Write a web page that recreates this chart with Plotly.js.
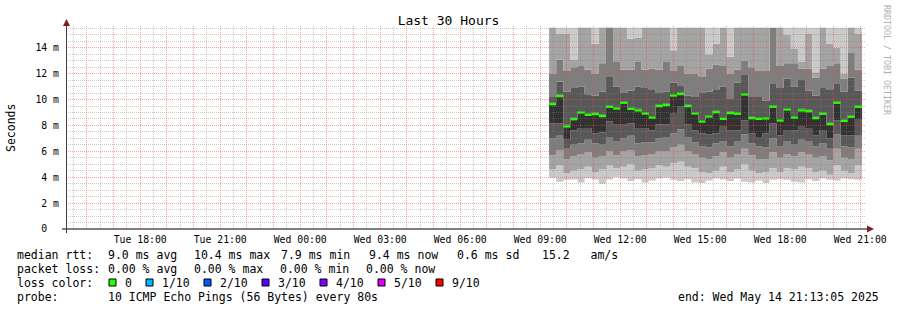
<!DOCTYPE html>
<html><head><meta charset="utf-8">
<script src="https://cdn.plot.ly/plotly-3.0.1.min.js"></script>
<style>html,body{margin:0;padding:0;background:#fff}#chart{width:897px;height:310px}</style>
</head><body><div id="chart"></div>
<script>
// ---------------- data ----------------
const rangeStart = '2025-05-13 15:13:05';
const rangeEnd   = '2025-05-14 21:13:05';
const firstSample = '2025-05-14 09:20:00';
const stepMinutes = 16;

// median rtt per 16-minute step (ms)
const median = [9.64,10.26,7.92,8.48,9.00,8.82,8.87,8.72,9.44,9.31,9.75,9.28,9.16,8.92,8.61,9.49,9.57,10.31,10.42,9.49,8.92,8.30,8.69,9.02,8.51,8.95,8.90,10.39,8.56,8.51,8.54,9.44,8.38,9.23,8.61,9.16,9.10,8.56,8.90,8.10,9.75,8.35,8.67,9.44];
// sorted pings 1..10 (ms), visible part (clipped at top of graph)
const ping1 = [3.95,3.65,3.8,3.82,3.6,3.92,3.82,3.5,3.82,4.0,3.9,3.7,3.85,3.6,3.75,3.9,3.95,3.8,3.7,3.85,3.6,3.55,3.75,3.9,3.82,3.7,3.9,3.65,3.6,3.75,3.55,3.8,3.85,3.8,3.65,3.6,3.85,3.7,3.9,3.8,3.75,3.9,3.85,3.8];
const ping2 = [4.6,4.9,4.3,4.5,4.6,4.8,4.4,4.6,4.9,4.7,4.8,5.0,4.5,4.6,4.7,4.9,4.8,5.1,5.2,4.8,4.7,4.4,4.3,4.5,4.8,4.4,4.6,5.0,4.5,4.3,4.4,4.7,4.4,4.7,4.6,4.8,4.7,4.4,4.5,4.2,4.9,4.5,4.3,4.9];
const ping3 = [5.7,6.1,5.4,5.6,5.8,5.9,5.5,5.6,6.0,5.7,6.0,6.1,5.6,5.7,5.8,6.0,6.0,6.3,6.5,6.0,5.8,5.5,5.4,5.6,5.9,5.5,5.8,6.2,5.7,5.4,5.4,5.9,5.5,5.8,5.6,5.9,5.8,5.5,5.6,5.3,6.2,5.5,5.4,6.2];
const ping4 = [7.0,7.2,6.2,6.5,6.6,6.9,6.6,6.5,7.1,6.8,7.0,7.2,6.6,6.7,6.7,7.0,7.1,7.4,7.7,7.1,6.7,6.4,6.3,6.6,6.8,6.4,6.8,7.3,6.6,6.4,6.3,7.0,6.4,6.8,6.5,6.9,6.8,6.4,6.6,6.2,7.3,6.4,6.3,7.2];
const ping5 = [8.15,8.15,6.90,7.60,7.80,7.80,7.40,7.45,8.30,8.05,8.05,8.15,7.75,7.80,7.60,8.10,8.10,8.90,9.45,8.10,7.60,7.40,7.30,7.40,7.90,7.60,7.60,8.40,7.40,7.10,7.40,8.15,7.25,7.65,7.60,7.90,7.80,7.25,7.65,7.00,8.40,7.25,7.25,8.50];
const ping6 = [9.76,10.38,8.05,8.60,9.12,8.94,8.99,8.84,9.56,9.43,9.87,9.40,9.28,9.04,8.73,9.61,9.69,10.43,10.54,9.61,9.04,8.42,8.81,9.14,8.63,9.07,9.02,10.51,8.68,8.63,8.66,9.56,8.50,9.35,8.73,9.28,9.22,8.68,9.02,8.22,9.87,8.47,8.79,9.56];
const ping7 = [10.2,11.4,10.6,10.9,11.0,10.4,10.3,10.6,11.8,11.0,10.5,10.7,11.0,10.9,10.8,10.5,10.6,11.3,11.1,10.3,10.2,10.5,10.6,10.8,11.0,10.1,11.3,11.9,10.2,10.2,9.9,11.2,10.9,11.6,11.0,11.5,10.7,10.3,10.9,10.8,11.2,10.6,11.7,10.7];
const ping8 = [12.0,13.1,12.2,12.5,12.6,12.3,12.0,12.8,15.55,12.9,12.3,12.3,12.9,12.3,12.4,12.3,12.9,12.2,12.6,12.0,12.0,11.8,12.4,12.7,12.6,12.0,12.3,13.0,12.5,12.2,12.2,15.55,12.6,12.8,12.8,12.4,12.4,11.7,12.4,12.6,12.8,11.6,13.6,12.3];
const ping9 = [15.55,15.1,15.1,13.1,15.55,15.55,14.3,15.55,15.55,15.55,15.55,14.7,14.8,15.55,15.55,15.55,15.55,13.8,15.55,15.55,15.55,15.55,13.5,14.3,15.55,13.3,15.55,15.55,15.55,15.55,15.55,15.55,15.55,15.0,13.9,12.9,15.1,12.1,15.55,14.3,14.0,12.0,15.55,15.1];
const ping10 = [15.55,15.55,15.55,15.55,15.55,15.55,15.55,15.55,15.55,15.55,15.55,15.55,15.55,15.55,15.55,15.55,15.55,15.55,15.55,15.55,15.55,15.55,15.55,15.55,15.55,15.55,15.55,15.55,15.55,15.55,15.55,15.55,15.55,15.55,15.55,15.55,15.55,15.55,15.55,15.55,15.55,15.55,15.55,15.55];

const yTickVals = [0,2,4,6,8,10,12,14];
const yTickText = ['0\u00a0\u00a0','2 m','4 m','6 m','8 m','10 m','12 m','14 m'];
const yMax = 15.68;

const smokeColors = ['#cacaca','#a4a4a4','#7e7e7e','#585858','#323232','#585858','#7e7e7e','#a4a4a4','#cacaca'];
const medianColor = '#26ff00';

const lossColors = ['#26ff00','#00b8ff','#0059ff','#5e00ff','#7e00ff','#dd00ff','#ff0000'];
const lossLabels = ['0','1/10','2/10','3/10','4/10','5/10','9/10'];

const line1 = [['median rtt:',16],['9.0 ms avg',107],['10.4 ms max',193],['7.9 ms min',280],['9.4 ms now',368],['0.6 ms sd',456],['15.2\u00a0\u00a0\u00a0am/s',541]];
const line2 = [['packet loss:',16],['0.00 % avg',107],['0.00 % max',193],['0.00 % min',279],['0.00 % now',365]];
const line4 = [['probe:',16],['10 ICMP Echo Pings (56 Bytes) every 80s',107]];
const endText = 'end: Wed May 14 21:13:05 2025';

// ---------------- helpers ----------------
const FONT = 'DejaVu Sans Mono';
const L = 66, T = 26, W = 800, H = 203, FW = 897, FH = 310;
const px = x => (x - L) / W;
const py = y => 1 - (y - T) / H;
const toMs = s => Date.parse(s.replace(' ', 'T') + 'Z');
const pad = n => String(n).padStart(2, '0');
const fmt = ms => { const d = new Date(ms); return d.getUTCFullYear()+'-'+pad(d.getUTCMonth()+1)+'-'+pad(d.getUTCDate())+' '+pad(d.getUTCHours())+':'+pad(d.getUTCMinutes())+':'+pad(d.getUTCSeconds()); };
const days = ['Sun','Mon','Tue','Wed','Thu','Fri','Sat'];

const t0 = toMs(firstSample), stepMs = stepMinutes * 60000;
const n = median.length;
const times = [];
for (let i = 0; i <= n; i++) times.push(fmt(t0 + i * stepMs));

// ---------------- traces ----------------
const pings = [ping1,ping2,ping3,ping4,ping5,ping6,ping7,ping8,ping9,ping10];
const traces = pings.map((p, k) => ({
  type: 'scatter', mode: 'lines', x: times, y: p.concat([p[p.length-1]]),
  xaxis: 'x', yaxis: 'y', line: {width: 0, shape: 'hv'},
  fill: k === 0 ? 'none' : 'tonexty', fillcolor: k === 0 ? undefined : smokeColors[k-1],
  hoverinfo: 'skip', showlegend: false
}));
// empty trace so that the minor-grid subplot is drawn
traces.push({type:'scatter', mode:'lines', x:[rangeStart], y:[null], xaxis:'x2', yaxis:'y2', hoverinfo:'skip', showlegend:false});
const mx = [], my = [];
median.forEach((m, i) => { mx.push(times[i], times[i+1], null); my.push(m, m, null); });
traces.push({type:'scatter', mode:'lines', x: mx, y: my, xaxis:'x3', yaxis:'y3',
  line:{color: medianColor, width: 2.3}, hoverinfo:'skip', showlegend:false, connectgaps:false});

// ---------------- grid / ticks ----------------
const halfHour = 1800000;
const majorX = [], majorXText = [], minorX = [];
for (let t = Math.ceil(toMs(rangeStart)/halfHour)*halfHour; t <= toMs(rangeEnd); t += halfHour) {
  const d = new Date(t);
  if (d.getUTCMinutes() === 0) {
    majorX.push(fmt(t));
    majorXText.push(d.getUTCHours() % 3 === 0 ? days[d.getUTCDay()] + ' ' + pad(d.getUTCHours()) + ':00' : '');
  } else minorX.push(fmt(t));
}
const minorY = [];
for (let v = 0.5; v < yMax; v += 0.5) if (v % 2 !== 0) minorY.push(v);

// ---------------- annotations / shapes ----------------
const annotations = [];
const shapes = [];
const textAnn = (text, x, y, opts={}) => annotations.push(Object.assign({
  text: text.replace(/ /g, '\u00a0'), xref:'paper', yref:'paper', x: px(x), y: py(y),
  xanchor:'left', yanchor:'middle', showarrow:false, borderpad:0,
  font:{family: FONT, size: 11.5, color:'#000'}}, opts));

line1.forEach(([t,x]) => textAnn(t, x, 254.5));
line2.forEach(([t,x]) => textAnn(t, x, 268.5));
textAnn('loss color:', 16, 282.5);
line4.forEach(([t,x]) => textAnn(t, x, 296.5));
textAnn(endText, 880, 296.5, {xanchor:'right'});

let bx = 109;
lossColors.forEach((c, i) => {
  shapes.push({type:'rect', xref:'paper', yref:'paper', x0:px(bx), x1:px(bx+7), y0:py(286), y1:py(279),
    fillcolor:c, line:{color:'#000', width:1}});
  textAnn(lossLabels[i], bx + 15, 282.5);
  bx += 15 + lossLabels[i].length * 7 + 15;
});

annotations.push({text:'Seconds', xref:'paper', yref:'paper', x:px(10.5), y:py(127.5), textangle:-90,
  xanchor:'center', yanchor:'middle', showarrow:false, font:{family:FONT, size:11.5, color:'#000'}});
annotations.push({text:'RRDTOOL / TOBI OETIKER'.replace(/ /g,'\u00a0'), xref:'paper', yref:'paper', x:px(887), y:py(60), textangle:90,
  xanchor:'center', yanchor:'middle', showarrow:false, font:{family:FONT, size:8.3, color:'#b0b0b0'}});

shapes.push({type:'line', xref:'paper', yref:'paper', x0:px(62), x1:px(868), y0:py(229), y1:py(229), line:{color:'#000', width:1}});
shapes.push({type:'line', xref:'paper', yref:'paper', x0:px(66.5), x1:px(66.5), y0:py(233), y1:py(25), line:{color:'#404040', width:1}});
shapes.push({type:'path', xref:'paper', yref:'paper', fillcolor:'#7f1f1f', line:{width:0},
  path:`M ${px(867)} ${py(225.5)} L ${px(874)} ${py(229)} L ${px(867)} ${py(232.5)} Z`});
shapes.push({type:'path', xref:'paper', yref:'paper', fillcolor:'#7f1f1f', line:{width:0},
  path:`M ${px(63)} ${py(26)} L ${px(66.5)} ${py(19)} L ${px(70)} ${py(26)} Z`});

const gridMajor = 'rgba(255,64,64,0.5)', gridMinor = 'rgba(128,128,128,0.4)', dash = '1px,1px';
const tf = {family:FONT, size:9.8, color:'#000'};
const layout = {
  width: FW, height: FH, margin: {l: L, r: FW - L - W, t: T, b: FH - T - H, pad: 0},
  paper_bgcolor: '#fff', plot_bgcolor: 'rgba(0,0,0,0)', showlegend: false,
  title: {text: 'Last 30 Hours', font: {family: FONT, size: 13, color: '#000'}, x: 0.5, xanchor:'center', xref:'container', y: 1 - 20/FH, yref:'container', yanchor:'middle'},
  // smoke
  xaxis: {type:'date', range:[rangeStart, rangeEnd], visible:false, fixedrange:true},
  yaxis: {range:[0, yMax], visible:false, fixedrange:true},
  // minor grid (drawn over the smoke)
  xaxis2: {type:'date', range:[rangeStart, rangeEnd], anchor:'y2', tickmode:'array', tickvals: minorX,
    showticklabels:false, ticks:'', showgrid:true, gridcolor:gridMinor, griddash:dash, gridwidth:1, zeroline:false, showline:false},
  yaxis2: {range:[0, yMax], anchor:'x2', tickmode:'array', tickvals: minorY,
    showticklabels:false, ticks:'', showgrid:true, gridcolor:gridMinor, griddash:dash, gridwidth:1, zeroline:false, showline:false},
  // major grid, tick labels, median
  xaxis3: {type:'date', range:[rangeStart, rangeEnd], anchor:'y3', tickmode:'array', tickvals: majorX, ticktext: majorXText,
    showgrid:true, gridcolor: gridMajor, griddash: dash, gridwidth:1, zeroline:false, showline:false, ticks:'',
    tickfont: tf, ticklabelstandoff: 3},
  yaxis3: {range:[0, yMax], anchor:'x3', tickmode:'array', tickvals: yTickVals, ticktext: yTickText,
    showgrid:true, gridcolor: gridMajor, griddash: dash, gridwidth:1, zeroline:false, showline:false, ticks:'',
    tickfont: tf, ticklabelstandoff: 6},
  annotations, shapes
};
Plotly.newPlot('chart', traces, layout, {staticPlot: true, displayModeBar: false});
</script></body></html>
